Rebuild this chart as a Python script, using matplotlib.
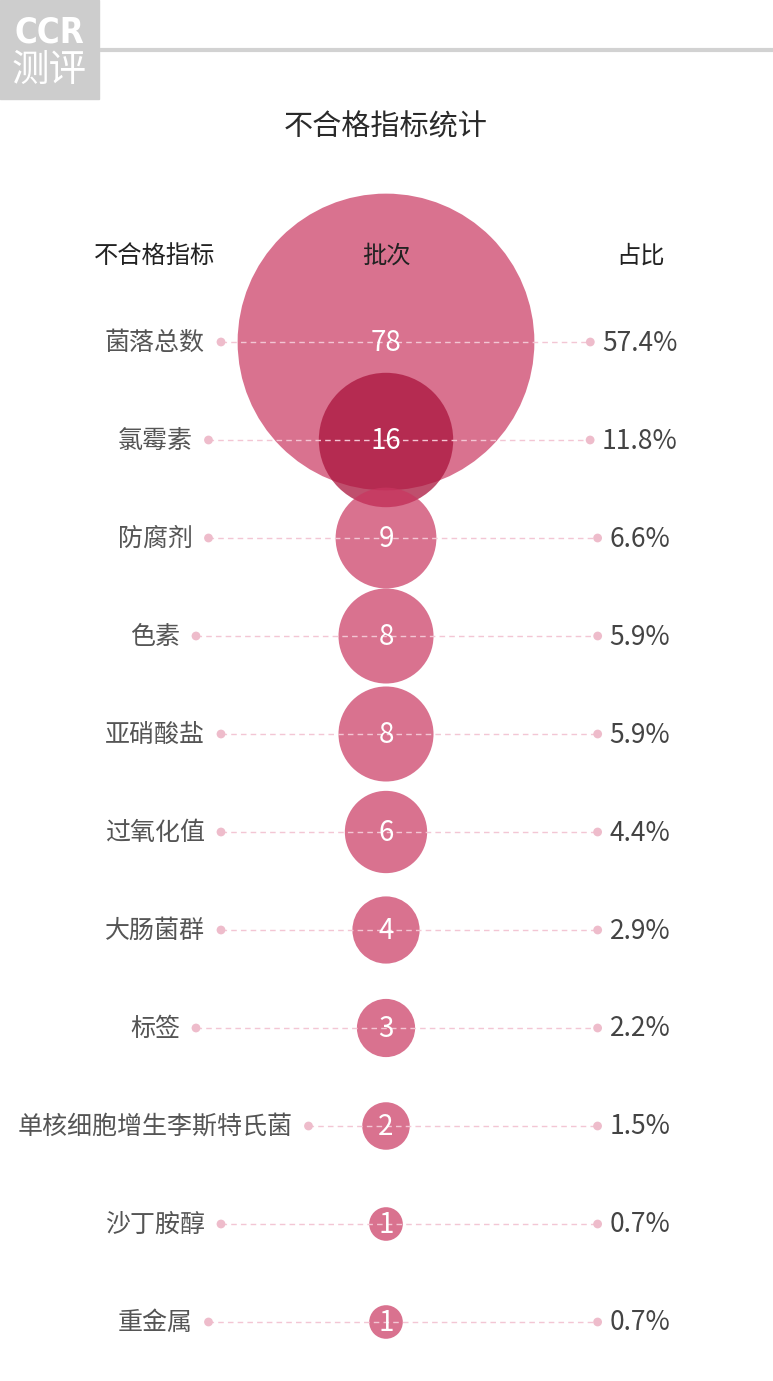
import matplotlib
matplotlib.use("Agg")
import matplotlib.pyplot as plt
from matplotlib.patches import Circle, Rectangle
import numpy as np

plt.rcParams['font.family'] = ['Noto Sans CJK SC', 'DejaVu Sans']

# data
items = ["菌落总数", "氯霉素", "防腐剂", "色素", "亚硝酸盐", "过氧化值",
         "大肠菌群", "标签", "单核细胞增生李斯特氏菌", "沙丁胺醇", "重金属"]
batches = [78, 16, 9, 8, 8, 6, 4, 3, 2, 1, 1]
shares = ["57.4%", "11.8%", "6.6%", "5.9%", "5.9%", "4.4%",
          "2.9%", "2.2%", "1.5%", "0.7%", "0.7%"]
headers = ["不合格指标", "批次", "占比"]
title = "不合格指标统计"

W, H = 773, 1381
fig = plt.figure(figsize=(W / 100, H / 100), dpi=100)
ax = fig.add_axes([0, 0, 1, 1])
ax.set_xlim(0, W)
ax.set_ylim(H, 0)
ax.set_aspect("equal")
ax.axis("off")

x_left, x_mid, x_right = 155, 386, 640
y0, step = 342, 98
scale = 16.8  # px per sqrt(batch)

base = (201 / 255, 54 / 255, 96 / 255)
dark = (170 / 255, 20 / 255, 60 / 255)

# logo + top rule
ax.add_patch(Rectangle((0, 0), 99, 99, color="#cdcdcd", zorder=1))
ax.text(49, 32, "CCR", color="white", fontsize=25, fontweight="heavy",
        ha="center", va="center", family="DejaVu Sans", stretch="condensed")
ax.text(49, 70, "测评", color="white", fontsize=27, ha="center", va="center",
        fontweight=300)
ax.plot([100, W], [50, 50], color="#d2d2d2", lw=3, solid_capstyle="butt")

ax.text(x_mid, 127, title, fontsize=21, color="#2a2a2a", ha="center",
        va="center", fontweight=500)

for x, h in zip([x_left, x_mid, x_right], headers):
    ax.text(x, 256, h, fontsize=17.5, color="#222222", ha="center",
            va="center", fontweight=500, zorder=6)

fig.canvas.draw()
renderer = fig.canvas.get_renderer()
inv = ax.transData.inverted()

for i, (name, b, s) in enumerate(zip(items, batches, shares)):
    y = y0 + step * i
    r = scale * np.sqrt(b)
    col = dark if b == 16 else base
    alpha = 0.75 if b == 16 else 0.7
    ax.add_patch(Circle((x_mid, y), r, facecolor=col, alpha=alpha,
                        edgecolor="none", zorder=2 + i * 0.01))
    t1 = ax.text(x_left, y + 1, name, fontsize=18, color="#555555",
                 ha="center", va="center", zorder=6, fontweight=300)
    t2 = ax.text(x_right, y + 1, s, fontsize=19, color="#444444",
                 ha="center", va="center", zorder=6, fontweight=300)
    bb1 = t1.get_window_extent(renderer)
    bb2 = t2.get_window_extent(renderer)
    xl = inv.transform((bb1.x1, 0))[0] + 16
    xr = inv.transform((bb2.x0, 0))[0] - 12
    ax.plot([xl, xr], [y, y], color="#f3c6d4", lw=1, ls=(0, (4, 3)),
            zorder=4)
    ax.scatter([xl, xr], [y, y], s=40, color="#eebccb", zorder=5,
               edgecolors="none")
    ax.text(x_mid, y + 1, str(b), fontsize=20, color="white", ha="center",
            va="center", zorder=7, fontweight=300)

fig.savefig("out.png", dpi=100, facecolor="white")
